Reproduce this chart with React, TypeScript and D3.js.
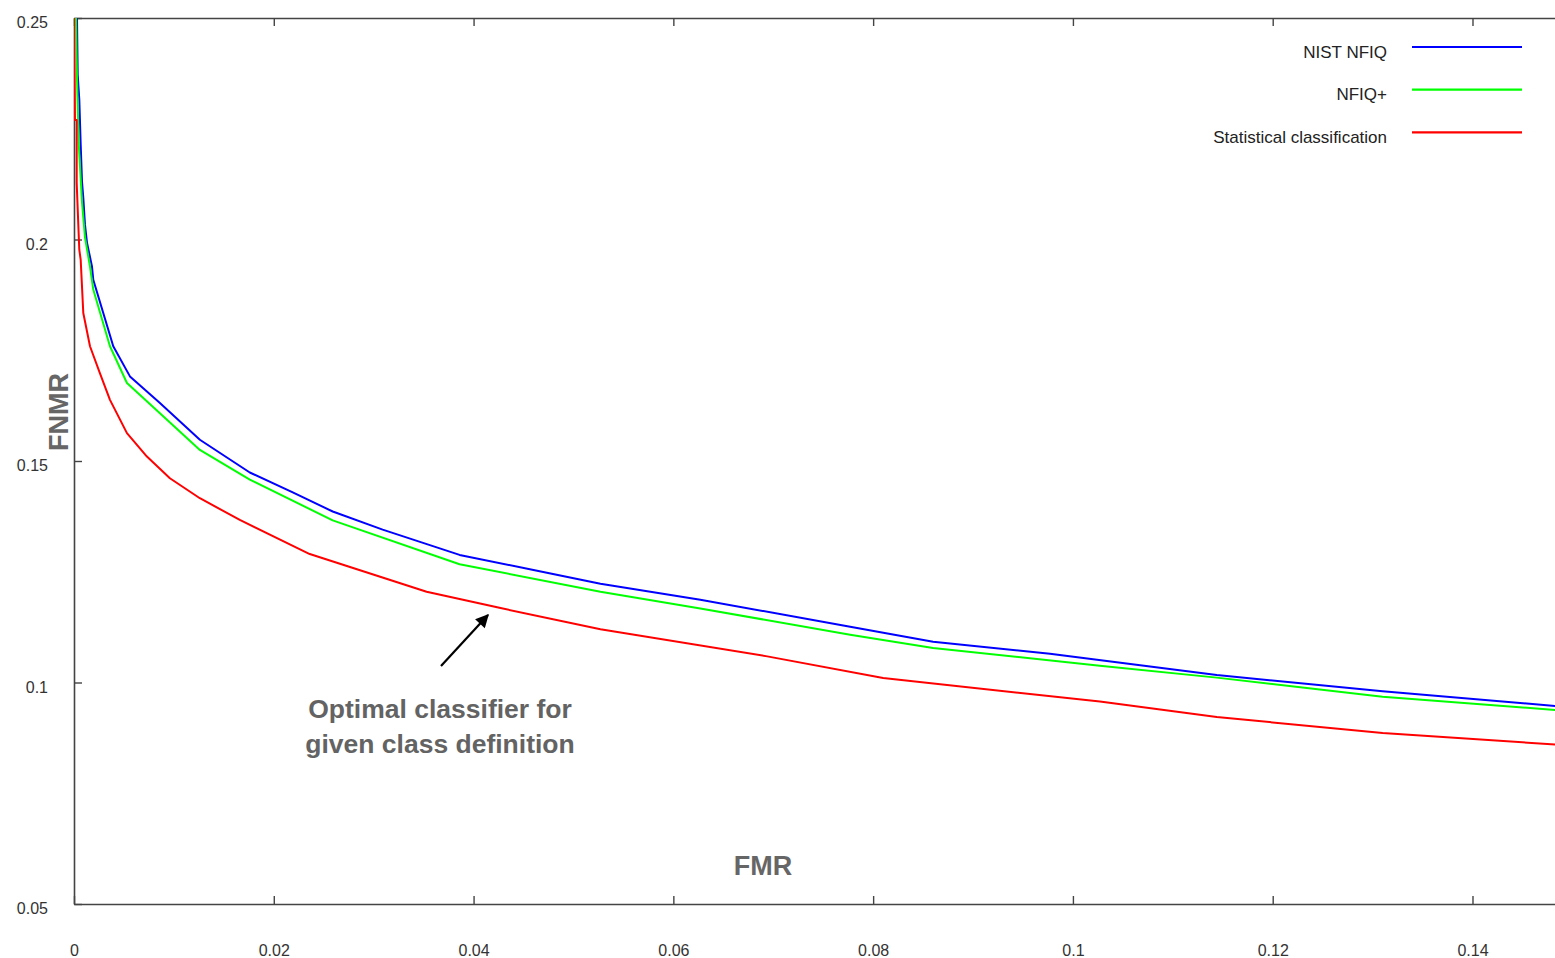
import React, { useRef, useEffect } from 'react';
import * as d3 from 'd3';

// FMR / FNMR pairs
const nistNfiq: [number, number][] = [
  [0.0003, 0.252], [0.0003, 0.25], [0.00037, 0.2372], [0.00053, 0.2316], [0.00067, 0.2214],
  [0.0008, 0.2131], [0.00093, 0.2094], [0.0011, 0.2033], [0.0013, 0.1993],
  [0.0018, 0.1939], [0.00193, 0.1909], [0.00293, 0.1834], [0.00393, 0.1759],
  [0.0056, 0.1691], [0.0086, 0.1631], [0.0126, 0.1548], [0.0176, 0.1474],
  [0.0219, 0.1429], [0.0259, 0.1386], [0.0309, 0.1345], [0.0386, 0.1288],
  [0.046, 0.1254], [0.0527, 0.1223], [0.0627, 0.1187], [0.0777, 0.1126],
  [0.086, 0.1092], [0.0977, 0.1065], [0.1144, 0.1017], [0.131, 0.098], [0.1483, 0.0947],
];

const nfiqPlus: [number, number][] = [
  [0.0002, 0.252], [0.0002, 0.25], [0.0003, 0.2367], [0.00047, 0.2218], [0.0008, 0.2085],
  [0.0011, 0.2005], [0.0016, 0.1939], [0.00193, 0.1887], [0.0036, 0.1759],
  [0.0053, 0.1676], [0.0086, 0.1608], [0.0126, 0.1525], [0.0176, 0.1458],
  [0.0259, 0.1366], [0.0386, 0.1267], [0.0527, 0.1205], [0.0627, 0.1167],
  [0.0777, 0.1108], [0.086, 0.1078], [0.1027, 0.1038], [0.1144, 0.1011],
  [0.131, 0.0968], [0.1483, 0.0938],
];

const statClass: [number, number][] = [
  [0, 0.25], [0.0001, 0.227], [0.00027, 0.227], [0.00027, 0.2128], [0.0004, 0.2051],
  [0.00053, 0.1977], [0.00067, 0.1954], [0.00093, 0.1834], [0.0016, 0.1759],
  [0.0026, 0.1698], [0.0036, 0.1638], [0.0053, 0.1563], [0.0073, 0.151],
  [0.0096, 0.1461], [0.0126, 0.1416], [0.0166, 0.1367], [0.0236, 0.129],
  [0.0353, 0.1205], [0.0427, 0.1168], [0.0527, 0.112], [0.0694, 0.1059],
  [0.081, 0.101], [0.1027, 0.0957], [0.1144, 0.0922], [0.131, 0.0886], [0.1483, 0.086],
];

const xTicks = [0, 0.02, 0.04, 0.06, 0.08, 0.1, 0.12, 0.14];
const yTicks = [0.05, 0.1, 0.15, 0.2, 0.25];

const seriesNames = ['NIST NFIQ', 'NFIQ+', 'Statistical classification'];
const seriesColors = ['#0000ff', '#00ff00', '#ff0000'];
const seriesData = [nistNfiq, nfiqPlus, statClass];

const W = 1555, H = 958;
const left = 74, top = 18, right = 1555, bottom = 904;
const font = '"Liberation Sans", Arial, Helvetica, sans-serif';

export default function App() {
  const xAxisRef = useRef<SVGGElement>(null);
  const topAxisRef = useRef<SVGGElement>(null);
  const yAxisRef = useRef<SVGGElement>(null);

  const x = d3.scaleLinear().domain([0, 0.14826]).range([left, right]);
  const y = d3.scaleLinear().domain([0.05, 0.25]).range([bottom, top]);

  const line = d3.line<[number, number]>().x(d => x(d[0])).y(d => y(d[1]));

  useEffect(() => {
    const fmt = (d: d3.NumberValue) => String(+d);

    const gx = d3.select(xAxisRef.current!);
    gx.call(d3.axisBottom(x).tickValues(xTicks).tickSizeInner(-8).tickSizeOuter(0)
      .tickPadding(41).tickFormat(fmt) as any);

    const gt = d3.select(topAxisRef.current!);
    gt.call(d3.axisTop(x).tickValues(xTicks).tickSizeInner(-8).tickSizeOuter(0)
      .tickFormat(() => '') as any);

    const gy = d3.select(yAxisRef.current!);
    gy.call(d3.axisLeft(y).tickValues(yTicks).tickSizeInner(-8).tickSizeOuter(0)
      .tickPadding(26).tickFormat(fmt) as any);
    gy.selectAll('text').attr('dy', '0.6em');

    [gx, gt, gy].forEach(g => {
      g.select('.domain').attr('stroke', '#444').attr('stroke-width', 1.6);
      g.selectAll('.tick line').attr('stroke', '#444').attr('stroke-width', 1.4);
      g.selectAll('text')
        .attr('fill', '#333')
        .style('font-family', font)
        .style('font-size', '16px');
    });
  }, []);

  return (
    <svg width={W} height={H} style={{ position: 'absolute', left: 0, top: 0, background: '#fff' }}>
      <defs>
        <clipPath id="plotClip">
          <rect x={left} y={top} width={right - left} height={bottom - top} />
        </clipPath>
        <marker id="arrowHead" viewBox="0 0 10 10" refX="9" refY="5"
          markerWidth="7" markerHeight="6" orient="auto" markerUnits="strokeWidth">
          <path d="M0,0 L10,5 L0,10 z" fill="#000" />
        </marker>
      </defs>

      <g ref={topAxisRef} transform={`translate(0,${top})`} />
      <g ref={xAxisRef} transform={`translate(0,${bottom})`} />
      <g ref={yAxisRef} transform={`translate(${left},0)`} />

      <g clipPath="url(#plotClip)">
        {seriesData.map((data, i) => (
          <path key={seriesNames[i]} d={line(data) || ''} fill="none"
            stroke={seriesColors[i]} strokeWidth={2} strokeLinejoin="round" />
        ))}
      </g>

      {/* legend */}
      {seriesNames.map((name, i) => (
        <g key={name} transform={`translate(0,${47 + i * 42.7})`}>
          <text x={1387} y={10.5} textAnchor="end" fontFamily={font} fontSize={17} fill="#222">{name}</text>
          <line x1={1412} x2={1522} y1={0} y2={0} stroke={seriesColors[i]} strokeWidth={2.2} />
        </g>
      ))}

      {/* axis titles */}
      <text x={763} y={875} textAnchor="middle" fontFamily={font} fontWeight="bold"
        fontSize={27} fill="#666">FMR</text>
      <text transform="translate(68,412) rotate(-90)" textAnchor="middle" fontFamily={font}
        fontWeight="bold" fontSize={27} fill="#666">FNMR</text>

      {/* annotation */}
      <line x1={441} y1={666} x2={488} y2={615} stroke="#000" strokeWidth={2.2} markerEnd="url(#arrowHead)" />
      <text x={440} y={718} textAnchor="middle" fontFamily={font} fontWeight="bold" fontSize={26.5} fill="#636363">
        Optimal classifier for
      </text>
      <text x={440} y={753} textAnchor="middle" fontFamily={font} fontWeight="bold" fontSize={26.5} fill="#636363">
        given class definition
      </text>
    </svg>
  );
}
